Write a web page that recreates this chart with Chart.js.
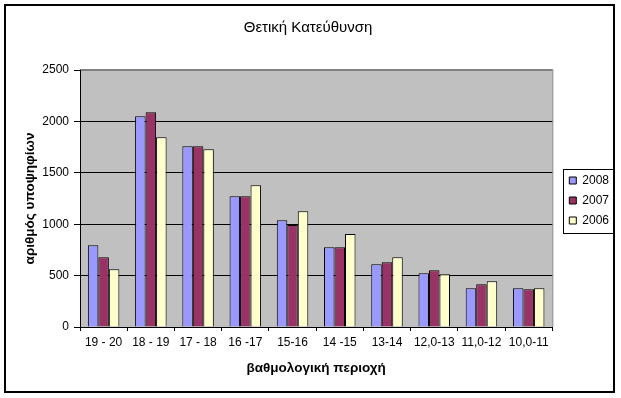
<!DOCTYPE html>
<html lang="el">
<head>
    <meta charset="UTF-8">
    <title>Θετική Κατεύθυνση</title>
    <style>
        body {
            margin: 0;
            background: #ffffff;
            font-family: Arial, "Liberation Sans", sans-serif;
        }
        .wrap {
            position: relative;
            width: 621px;
            height: 398px;
        }
    </style>
</head>
<body>
    <div class="wrap">
        <canvas id="chart" width="621" height="398"></canvas>
    </div>

    <script src="https://cdn.jsdelivr.net/npm/chart.js"></script>
    <script>
        // βαθμολογικές περιοχές
        const categories = ['19 - 20', '18 - 19', '17 - 18', '16 -17', '15-16', '14 -15', '13-14', '12,0-13', '11,0-12', '10,0-11'];
        const years = ['2008', '2007', '2006'];

        // αριθμός υποψηφίων ανά έτος
        const values2008 = [795, 2050, 1758, 1271, 1038, 775, 610, 522, 376, 376];
        const values2007 = [678, 2088, 1758, 1271, 992, 775, 629, 551, 415, 367];
        const values2006 = [561, 1845, 1729, 1378, 1125, 905, 678, 512, 445, 376];

        const yTicks = [0, 500, 1000, 1500, 2000, 2500];

        const colors = ['#9999ff', '#993366', '#ffffcc'];
        const font = 'Arial, "Liberation Sans", sans-serif';

        // γκρι φόντο και πλαίσιο της περιοχής σχεδίασης
        const plotArea = {
            id: 'plotArea',
            beforeDraw(chart) {
                const {ctx, chartArea: a} = chart;
                ctx.save();
                ctx.fillStyle = '#c0c0c0';
                ctx.fillRect(a.left, a.top, a.right - a.left, a.bottom - a.top);
                ctx.strokeStyle = '#808080';
                ctx.lineWidth = 1;
                ctx.beginPath();
                ctx.moveTo(a.right + 0.5, a.bottom);
                ctx.lineTo(a.right + 0.5, a.top - 0.5);
                ctx.lineTo(a.left, a.top - 0.5);
                ctx.stroke();
                ctx.restore();
            },
            afterLayout(chart) {
                // το υπόμνημα λίγο πιο δεξιά και πιο κάτω
                const lg = chart.legend;
                lg.left += 9;
                lg.right += 9;
                lg.top += 7;
                lg.bottom += 7;
            },
            afterDraw(chart) {
                const ctx = chart.ctx;
                ctx.save();
                ctx.strokeStyle = '#000';
                ctx.lineWidth = 2;
                ctx.strokeRect(5, 5, 609, 387);

                // πλαίσιο υπομνήματος
                const boxes = chart.legend.legendHitBoxes;
                if (boxes && boxes.length) {
                    const l = Math.min(...boxes.map(b => b.left));
                    const r = Math.max(...boxes.map(b => b.left + b.width));
                    const t = boxes[0].top;
                    const last = boxes[boxes.length - 1];
                    const b = last.top + last.height;
                    ctx.lineWidth = 1;
                    ctx.strokeRect(Math.round(l - 6) + 0.5, Math.round(t - 6) + 0.5,
                        Math.round(r - l + 10), Math.round(b - t + 12));
                }
                ctx.restore();
            }
        };

        const makeSet = (label, data, color) => ({
            label: label,
            data: data,
            backgroundColor: color,
            borderColor: '#000',
            borderWidth: 1,
            categoryPercentage: 0.667,
            barPercentage: 1
        });

        new Chart(document.getElementById('chart'), {
            type: 'bar',
            data: {
                labels: categories,
                datasets: [
                    makeSet(years[0], values2008, colors[0]),
                    makeSet(years[1], values2007, colors[1]),
                    makeSet(years[2], values2006, colors[2])
                ]
            },
            options: {
                responsive: false,
                animation: false,
                devicePixelRatio: 1,
                layout: {
                    padding: {left: 6, right: 11, top: 0, bottom: 11}
                },
                plugins: {
                    title: {
                        display: true,
                        text: 'Θετική Κατεύθυνση',
                        color: '#000',
                        font: {family: font, size: 15, weight: 'normal'},
                        padding: {top: 19, bottom: 33}
                    },
                    legend: {
                        position: 'right',
                        labels: {
                            color: '#000',
                            font: {family: font, size: 12},
                            boxWidth: 7,
                            boxHeight: 7,
                            padding: 8,
                            useBorderRadius: false
                        }
                    },
                    tooltip: {enabled: false}
                },
                scales: {
                    x: {
                        afterFit(scale) { scale.height = 60; },
                        grid: {
                            offset: true,
                            drawOnChartArea: false,
                            tickLength: 4,
                            tickColor: '#000'
                        },
                        border: {color: '#000'},
                        ticks: {
                            color: '#000',
                            font: {family: font, size: 12},
                            maxRotation: 0,
                            autoSkip: false,
                            padding: 4
                        },
                        title: {
                            display: true,
                            text: 'βαθμολογική περιοχή',
                            color: '#000',
                            font: {family: font, size: 13.5, weight: 'bold'},
                            padding: {top: 0, bottom: 11}
                        }
                    },
                    y: {
                        min: yTicks[0],
                        max: yTicks[yTicks.length - 1],
                        afterFit(scale) { scale.width = 74; },
                        afterBuildTicks(scale) {
                            scale.ticks = yTicks.map(v => ({value: v}));
                        },
                        grid: {
                            color: c => (c.tick && c.tick.value === 2500) ? '#808080' : '#000',
                            tickColor: '#000',
                            tickLength: 6
                        },
                        border: {color: '#000'},
                        ticks: {
                            color: '#000',
                            font: {family: font, size: 12},
                            padding: 5,
                            callback: v => String(v)
                        },
                        title: {
                            display: true,
                            text: 'αριθμός υποψηφίων',
                            color: '#000',
                            font: {family: font, size: 13.5, weight: 'bold'},
                            padding: {top: 16, bottom: 0}
                        }
                    }
                }
            },
            plugins: [plotArea]
        });
    </script>
</body>
</html>
